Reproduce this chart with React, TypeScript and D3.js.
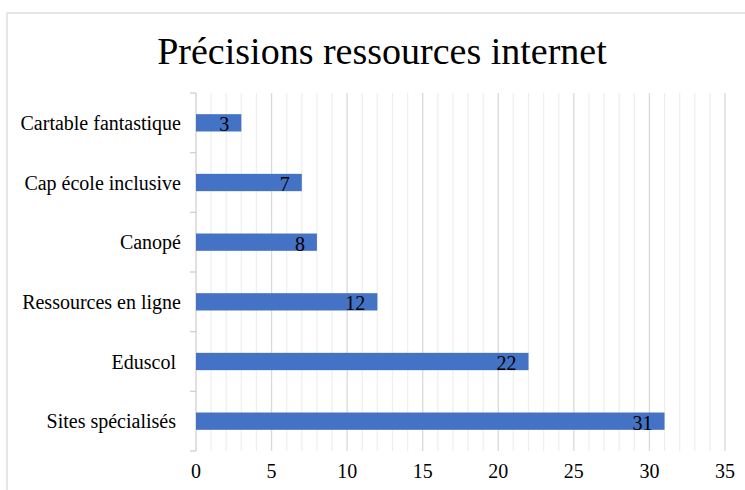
import React from "react";
import * as d3 from "d3";

const categories = [
  "Cartable fantastique",
  "Cap école inclusive",
  "Canopé",
  "Ressources en ligne",
  "Eduscol ",
  "Sites spécialisés ",
];
const values = [3, 7, 8, 12, 22, 31];
const xTicks = [0, 5, 10, 15, 20, 25, 30, 35];
const title = "Précisions ressources internet";

const W = 745;
const H = 490;
const left = 196;
const right = 725;
const top = 93;
const bottom = 451;
const font = '"Liberation Serif", "Times New Roman", Times, serif';

export default function App() {
  const x = d3.scaleLinear().domain([0, 35]).range([left, right]);
  const y = d3
    .scaleBand<string>()
    .domain(categories)
    .range([top, bottom])
    .paddingInner(0.71)
    .paddingOuter(0.355);
  const band = (bottom - top) / categories.length;
  const minor = d3.range(1, 36).filter((v) => v % 5 !== 0);
  const boundaries = d3.range(categories.length + 1).map((i) => top + i * band);
  const ts = { fontFamily: font };

  return (
    <svg
      width={W}
      height={H}
      style={{ position: "absolute", left: 0, top: 0, background: "#fff", fontFamily: font }}
    >
      <rect x={0} y={0} width={W} height={H} fill="#fff" />
      <rect x={7} y={13} width={W + 20} height={H + 20} fill="none" stroke="#d9d9d9" strokeWidth={1.3} />
      <text x={382} y={64} textAnchor="middle" fontSize={38} fill="#000" style={ts}>
        {title}
      </text>
      {minor.map((v) => (
        <line key={"m" + v} x1={x(v)} x2={x(v)} y1={top} y2={bottom} stroke="#efefef" strokeWidth={1.3} />
      ))}
      {xTicks.filter((v) => v > 0).map((v) => (
        <line key={"g" + v} x1={x(v)} x2={x(v)} y1={top} y2={bottom} stroke="#d9d9d9" strokeWidth={1.3} />
      ))}
      <line x1={x(0)} x2={x(0)} y1={top} y2={bottom} stroke="#d0d0d0" strokeWidth={1.3} />
      {boundaries.map((b, i) => (
        <line key={"t" + i} x1={x(0) - 6} x2={x(0)} y1={b} y2={b} stroke="#d0d0d0" strokeWidth={1.3} />
      ))}
      {categories.map((c, i) => {
        const by = y(c) as number;
        const bw = y.bandwidth();
        return (
          <g key={c}>
            <rect x={x(0)} y={by} width={x(values[i]) - x(0)} height={bw} fill="#4472c4" />
            <text x={x(values[i]) - 12} y={by + bw} textAnchor="end" fontSize={20} fill="#000" style={ts}>
              {values[i]}
            </text>
            <text
              x={181}
              y={by + bw / 2 + 7}
              textAnchor="end"
              fontSize={20}
              fill="#000"
              style={{ ...ts, whiteSpace: "pre" }}
            >
              {c}
            </text>
          </g>
        );
      })}
      {xTicks.map((v) => (
        <text key={"l" + v} x={x(v)} y={478} textAnchor="middle" fontSize={20} fill="#000" style={ts}>
          {v}
        </text>
      ))}
    </svg>
  );
}
